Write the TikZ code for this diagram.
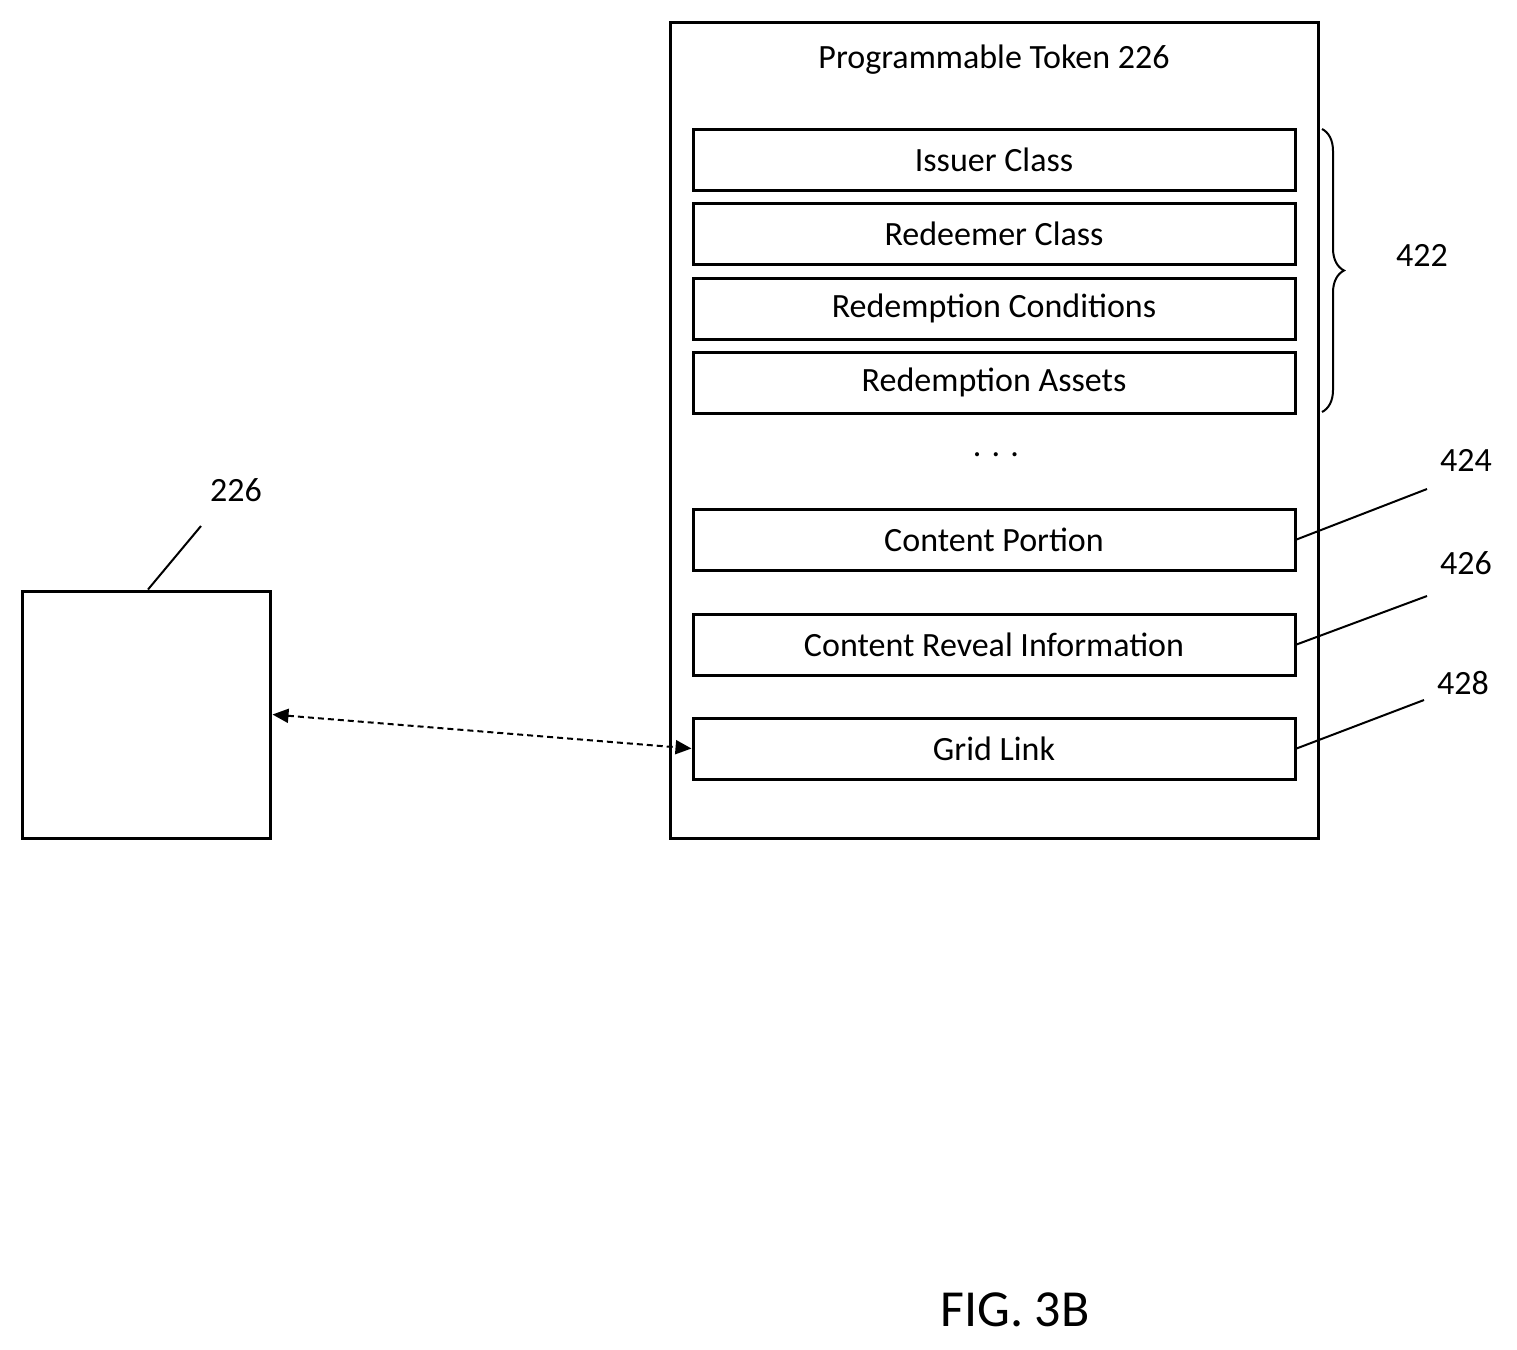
\documentclass[tikz,border=0pt]{standalone}
\usepackage{fontspec}
\setmainfont{Carlito}
\usetikzlibrary{arrows.meta,decorations.pathreplacing}
\begin{document}
\begin{tikzpicture}[x=1pt,y=-1pt,
  box/.style={draw,line width=3pt},
  item/.style={draw,line width=3pt,minimum width=602pt,minimum height=61pt,inner sep=0pt,font=\fontsize{34}{40}\selectfont},
  lbl/.style={font=\fontsize{34}{40}\selectfont},
  lead/.style={line width=2pt}]
\useasboundingbox (0,0) rectangle (1517,1349);
\draw[box] (670,22) rectangle (1318,838);
\node[lbl] (title) at (994,60) {Programmable Token 226};
\node[item] (a) at (994,159.5) {Issuer Class};
\node[item] (b) at (994,233.5) {Redeemer Class};
\node[item] (c) at (994,308.5) {Redemption Conditions};
\node[item] (d) at (994,382.5) {Redemption Assets};
\node[lbl] (dots) at (996,455) {. . .};
\node[item] (e) at (994,539.5) {Content Portion};
\node[item] (f) at (994,644.5) {Content Reveal Information};
\node[item] (g) at (994,748.5) {Grid Link};
\draw[lead,decorate,decoration={brace,amplitude=22pt}] (1322,129) -- (1322,412);
\node[lbl] (l422) at (1422,255) {422};
\node[lbl] (l424) at (1466,460) {424};
\node[lbl] (l426) at (1466,563) {426};
\node[lbl] (l428) at (1463,683) {428};
\coordinate (p424) at (1427,489);
\coordinate (p426) at (1427,596);
\coordinate (p428) at (1424,700);
\draw[lead] (e.east) -- (p424);
\draw[lead] (f.east) -- (p426);
\draw[lead] (g.east) -- (p428);
\node[box,minimum width=248pt,minimum height=247pt,inner sep=0pt] (s) at (146,714.5) {};
\node[lbl] (l226) at (236,490) {226};
\coordinate (p226) at (201,526);
\draw[lead] (s.north) ++(2,0) -- (p226);
\draw[lead,dashed,dash pattern=on 6pt off 4pt,{Triangle[length=16pt,width=14pt]}-{Triangle[length=16pt,width=14pt]}] (s.east) ++(1,0) -- (g.west);
\node[font=\fontsize{52}{60}\selectfont] (fig) at (1015,1310) {FIG. 3B};
\end{tikzpicture}
\end{document}
